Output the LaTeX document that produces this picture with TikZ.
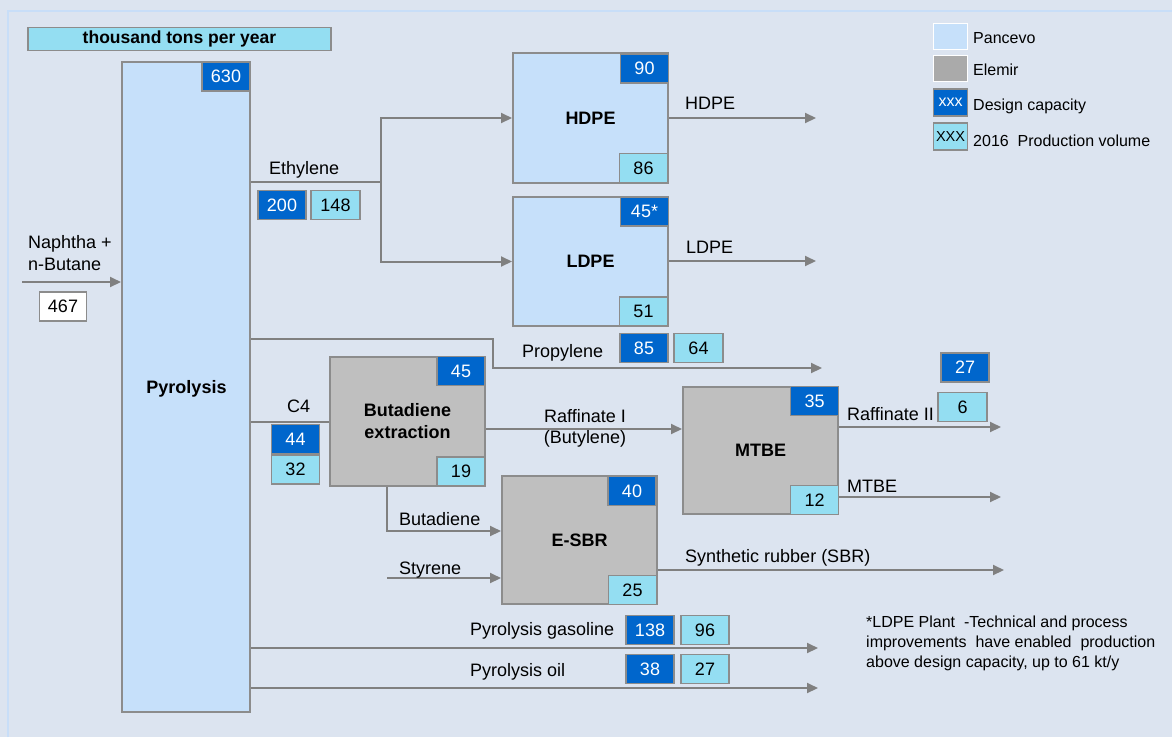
\documentclass[tikz,border=0pt]{standalone}
\usepackage{fontspec}
\setmainfont{Liberation Sans}
\usetikzlibrary{arrows.meta}
\definecolor{bg}{RGB}{220,228,240}
\definecolor{frameblue}{RGB}{200,222,248}
\definecolor{pancevo}{RGB}{198,224,250}
\definecolor{elemir}{RGB}{191,191,191}
\definecolor{legelemir}{RGB}{170,170,170}
\definecolor{design}{RGB}{0,102,204}
\definecolor{prod}{RGB}{148,222,242}
\definecolor{edge}{RGB}{140,140,140}
\definecolor{flow}{RGB}{128,128,128}
\tikzset{
  fs/.style={font=\fontsize{18}{22}\selectfont},
  plant/.style={draw=edge, line width=2pt, inner sep=0pt, minimum width=155pt, minimum height=129pt, align=center, font=\fontsize{18}{22}\selectfont\bfseries},
  pan/.style={plant, fill=pancevo},
  elm/.style={plant, fill=elemir},
  capbox/.style={fill=design, draw=edge, line width=1.6pt, text=white, minimum width=48pt, minimum height=29pt, inner sep=0pt, fs},
  volbox/.style={fill=prod, draw=edge, line width=1.6pt, text=black, minimum width=48pt, minimum height=29pt, inner sep=0pt, fs},
  lbl/.style={inner sep=0pt, fs, anchor=base west},
  lblc/.style={inner sep=0pt, fs, anchor=base},
  leglbl/.style={inner sep=0pt, anchor=base west, font=\fontsize{16}{19}\selectfont},
  footlbl/.style={inner sep=0pt, anchor=base west, font=\fontsize{16}{19}\selectfont},
  flowline/.style={draw=flow, line width=2pt},
  arr/.style={flowline, -{Triangle[length=11pt,width=10pt]}},
}
\begin{document}
\begin{tikzpicture}[x=1pt,y=-1pt]
\fill[bg] (0,0) rectangle (1172,737);
\useasboundingbox (0,0) rectangle (1172,737);
\draw[frameblue, line width=2pt] (8,737) -- (8,11) -- (1172,11);

% title
\node[fill=prod, draw=edge, line width=1.6pt, minimum width=303pt, minimum height=23pt, inner sep=0pt, font=\fontsize{17.5}{20}\selectfont\bfseries] (title) at (179.5,39) {thousand tons per year};

% main plants
\node[pan, minimum width=128pt, minimum height=650pt] (pyro) at (186,387) {};
\node[inner sep=0pt, anchor=base, font=\fontsize{18}{22}\selectfont\bfseries] (lpyro) at (186.5,393) {Pyrolysis};
\node[capbox] (c630) at (226,76.5) {630};

\node[pan, minimum height=130pt] (hdpe) at (590.5,118) {HDPE};
\node[capbox] (c90) at (644.5,68.5) {90};
\node[volbox] (v86) at (643.5,168) {86};

\node[pan] (ldpe) at (590.5,261.5) {LDPE};
\node[capbox] (c45s) at (644.5,211.5) {45*};
\node[volbox] (v51) at (643.5,311.5) {51};

\node[elm, minimum width=155pt, minimum height=129pt] (bde) at (407.5,421.5) {Butadiene\\extraction};
\node[capbox] (c45) at (461,371) {45};
\node[volbox] (v19) at (461,471.5) {19};

\node[elm, minimum height=127pt] (mtbe) at (760.5,450.5) {MTBE};
\node[capbox] (c35) at (814.5,401) {35};
\node[volbox] (v12) at (814.5,500) {12};

\node[elm, minimum height=128pt] (esbr) at (579.5,540) {E-SBR};
\node[capbox] (c40) at (632,491) {40};
\node[volbox] (v25) at (632.5,590) {25};

% coordinates
\coordinate (feedin) at (22,282);
\coordinate (ethj) at (381,182);
\coordinate (hdpeout) at (816,118);
\coordinate (ldpeout) at (816,261);
\coordinate (propA) at (493,339);
\coordinate (propout) at (822,368);
\coordinate (rafy) at (600,429);
\coordinate (raf2out) at (1001,427);
\coordinate (mtbeout) at (1001,497);
\coordinate (bdturn) at (387,531);
\coordinate (styin) at (387,578);
\coordinate (sbrout) at (1004,570);
\coordinate (gasout) at (818,648);
\coordinate (oilout) at (818,688);

% flows
\draw[arr] (feedin) -- (pyro.west |- feedin);
\draw[flowline] (pyro.east |- ethj) -- (ethj);
\draw[arr] (ethj) |- (hdpe.west);
\draw[arr] (ethj) |- (ldpe.west);
\draw[arr] (hdpe.east |- hdpeout) -- (hdpeout);
\draw[arr] (ldpe.east |- ldpeout) -- (ldpeout);
\draw[arr] (pyro.east |- propA) -- (propA) |- (propout);
\draw[flowline] (pyro.east |- bde.west) -- (bde.west);
\draw[arr] (bde.east |- rafy) -- (mtbe.west |- rafy);
\draw[arr] (mtbe.east |- raf2out) -- (raf2out);
\draw[arr] (mtbe.east |- mtbeout) -- (mtbeout);
\draw[arr] (bde.south -| bdturn) -- (bdturn) -- (esbr.west |- bdturn);
\draw[arr] (styin) -- (esbr.west |- styin);
\draw[arr] (esbr.east |- sbrout) -- (sbrout);
\draw[arr] (pyro.east |- gasout) -- (gasout);
\draw[arr] (pyro.east |- oilout) -- (oilout);

% labels
\node[lbl] (lnaph1) at (28,248) {Naphtha +};
\node[lbl] (lnaph2) at (28,270) {n-Butane};
\node[fill=white, draw=edge, line width=1.6pt, minimum width=47pt, minimum height=29pt, inner sep=0pt, fs] (v467) at (63,306.5) {467};

\node[lbl] (leth) at (269,174) {Ethylene};
\node[capbox] (c200) at (282,205) {200};
\node[volbox, minimum width=49pt] (v148) at (335.5,205) {148};

\node[lbl] (lhdpe) at (685,109) {HDPE};
\node[lbl] (lldpe) at (686,253) {LDPE};

\node[lbl] (lprop) at (522,357) {Propylene};
\node[capbox] (c85) at (644,348) {85};
\node[volbox, minimum width=49pt] (v64) at (698.5,348) {64};

\node[lbl] (lc4) at (287,412) {C4};
\node[capbox] (c44) at (295.5,439) {44};
\node[volbox] (v32) at (295.5,469.5) {32};

\node[lblc] (lraf1a) at (585,422) {Raffinate I};
\node[lblc] (lraf1b) at (585,443) {(Butylene)};
\node[lbl] (lraf2) at (847,420) {Raffinate II};
\node[capbox] (c27r) at (965,367.5) {27};
\node[volbox, minimum width=49pt] (v6) at (962.5,407) {6};
\node[lbl] (lmtbe) at (847,492) {MTBE};

\node[lbl] (lbut) at (399,525) {Butadiene};
\node[lbl] (lsty) at (399,574) {Styrene};
\node[lbl] (lsbr) at (685,562) {Synthetic rubber (SBR)};

\node[lbl] (lgas) at (470,635) {Pyrolysis gasoline};
\node[capbox] (c138) at (650,630) {138};
\node[volbox] (v96) at (705,630) {96};
\node[lbl] (loil) at (470,676) {Pyrolysis oil};
\node[capbox] (c38) at (650,669) {38};
\node[volbox] (v27) at (705,669) {27};

% legend
\node[fill=pancevo, draw=white, line width=1.8pt, minimum width=34pt, minimum height=26pt, inner sep=0pt] (kpan) at (950.5,36.5) {};
\node[fill=legelemir, draw=white, line width=1.8pt, minimum width=34pt, minimum height=26pt, inner sep=0pt] (kelm) at (950.5,68.5) {};
\node[fill=design, draw=edge, line width=1.8pt, minimum width=34pt, minimum height=27pt, inner sep=0pt, text=white, font=\fontsize{16}{18}\selectfont] (kcap) at (950.5,102.5) {xxx};
\node[fill=prod, draw=edge, line width=1.8pt, minimum width=34pt, minimum height=27pt, inner sep=0pt, font=\fontsize{14.5}{16}\selectfont] (kvol) at (950.5,136.5) {XXX};
\node[leglbl] (lpan) at (973,43) {Pancevo};
\node[leglbl] (lelm) at (973,75) {Elemir};
\node[leglbl] (lcap) at (973,110) {Design capacity};
\node[leglbl] (lvol) at (973,146) {2016~ Production volume};

% footnote
\node[footlbl] (foot1) at (866,627) {*LDPE Plant~ -Technical and process};
\node[footlbl] (foot2) at (866,647) {improvements~ have enabled~ production};
\node[footlbl] (foot3) at (866,667) {above design capacity, up to 61 kt/y};
\end{tikzpicture}
\end{document}
